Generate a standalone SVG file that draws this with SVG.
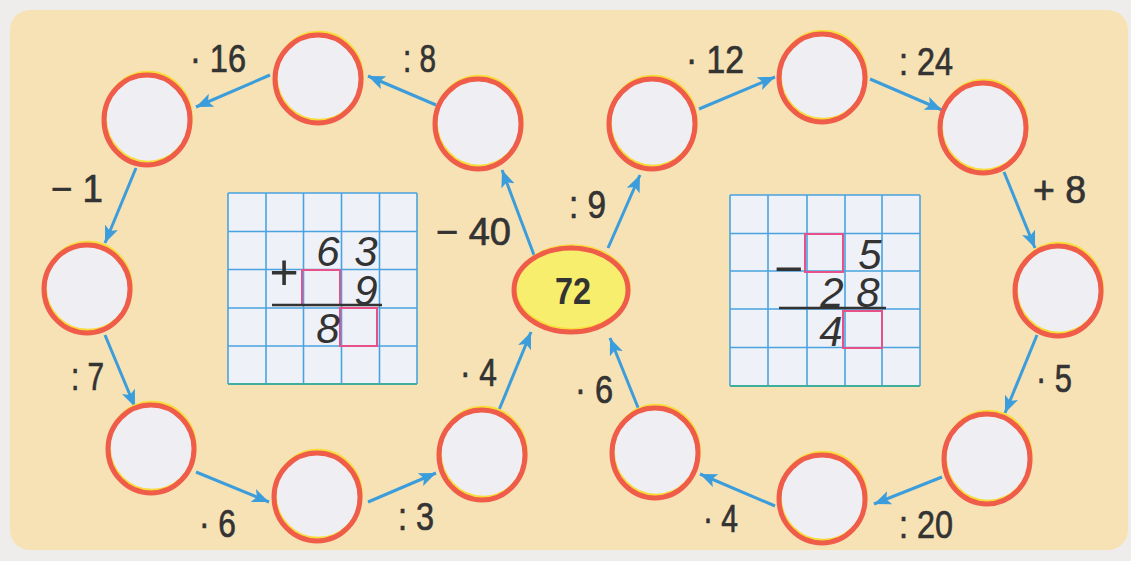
<svg xmlns="http://www.w3.org/2000/svg" width="1131" height="561" viewBox="0 0 1131 561">
<defs>
<style>
.f{fill:#eeeef3}
.y{fill:none;stroke:#f7dc3a;stroke-width:3.5}
.r{fill:none;stroke:#ef5c4a;stroke-width:5}
.cn{stroke:#3b9ddb;stroke-width:3;fill:none;marker-end:url(#ah)}
.lb{font-family:"Liberation Sans",Arial,sans-serif;font-size:38px;fill:#333;stroke:#333;stroke-width:0.7}
.gl{stroke:#4aa3e0;stroke-width:1.6;fill:none}
.pk{fill:none;stroke:#e8508a;stroke-width:2}
.dg{font-family:"Liberation Sans",Arial,sans-serif;font-style:italic;font-size:42px;fill:#333;text-anchor:middle}
.op{font-family:"Liberation Sans",Arial,sans-serif;font-size:50px;fill:#333;text-anchor:middle}
</style>
<marker id="ah" markerUnits="userSpaceOnUse" markerWidth="18" markerHeight="14" refX="17" refY="7" orient="auto">
<path d="M0,0 L17,7 L0,14 L4,7 z" fill="#3b9ddb"/>
</marker>
</defs>
<rect x="0" y="0" width="1131" height="561" fill="#efedeb"/>
<rect x="10" y="10" width="1118" height="540" rx="20" fill="#f7e2b5"/>

<g id="grid-left">
<rect x="228" y="193" width="189" height="191" fill="#eef1f7"/>
<path class="gl" d="M228,193V384M266,193V384M303.5,193V384M341.5,193V384M379.5,193V384M417,193V384M228,193H417M228,231.5H417M228,269.5H417M228,308H417M228,346H417"/>
<path d="M228,384H417" stroke="#3fae9f" stroke-width="1.8"/>
<rect class="pk" x="302" y="270" width="38" height="35"/>
<rect class="pk" x="340" y="308" width="37" height="38"/>
<text class="op" x="284" y="289">+</text>
<text class="dg"><tspan x="328" y="266">6</tspan><tspan x="366" y="266">3</tspan><tspan x="366" y="305">9</tspan><tspan x="328" y="343">8</tspan></text>
<path d="M272,305H382" stroke="#333" stroke-width="2.5"/>
</g>

<g id="grid-right">
<rect x="730" y="195" width="190" height="191" fill="#eef1f7"/>
<path class="gl" d="M730,195V386M768,195V386M807,195V386M845,195V386M882,195V386M920,195V386M730,195H920M730,233.5H920M730,271H920M730,309H920M730,347.5H920"/>
<path d="M730,386H920" stroke="#3fae9f" stroke-width="1.8"/>
<rect class="pk" x="805" y="234" width="38" height="38"/>
<rect class="pk" x="843" y="311" width="39" height="37"/>
<text class="op" x="788.5" y="285.5">−</text>
<text class="dg"><tspan x="870" y="269">5</tspan><tspan x="832" y="307">2</tspan><tspan x="868" y="307">8</tspan><tspan x="831" y="346">4</tspan></text>
<path d="M779,308H886" stroke="#333" stroke-width="2.5"/>
</g>

<g id="connectors">
<path class="cn" d="M534,255L502,170"/>
<path class="cn" d="M436,105L368,76"/>
<path class="cn" d="M270,75L196,107"/>
<path class="cn" d="M136,168L105,243"/>
<path class="cn" d="M105,335L135,407"/>
<path class="cn" d="M196,472L269,502"/>
<path class="cn" d="M368,502L436,473"/>
<path class="cn" d="M499,410L531,332"/>
<path class="cn" d="M608,248L640,175"/>
<path class="cn" d="M699,109L775,77"/>
<path class="cn" d="M870,79L942,110"/>
<path class="cn" d="M1004,172L1035,248"/>
<path class="cn" d="M1037,335L1005,413"/>
<path class="cn" d="M942,477L874,504"/>
<path class="cn" d="M775,506L700,474"/>
<path class="cn" d="M639,410L610,338"/>
</g>

<g id="labels">
<text class="lb" x="190" y="72" textLength="56" lengthAdjust="spacingAndGlyphs">· 16</text>
<text class="lb" x="403" y="72" textLength="33" lengthAdjust="spacingAndGlyphs">: 8</text>
<text class="lb" x="51" y="202" textLength="52" lengthAdjust="spacingAndGlyphs">− 1</text>
<text class="lb" x="436" y="245" textLength="75" lengthAdjust="spacingAndGlyphs">− 40</text>
<text class="lb" x="71" y="390" textLength="33" lengthAdjust="spacingAndGlyphs">: 7</text>
<text class="lb" x="199" y="537" textLength="37" lengthAdjust="spacingAndGlyphs">· 6</text>
<text class="lb" x="398" y="530" textLength="36" lengthAdjust="spacingAndGlyphs">: 3</text>
<text class="lb" x="460" y="386" textLength="37" lengthAdjust="spacingAndGlyphs">· 4</text>
<text class="lb" x="569" y="218" textLength="37" lengthAdjust="spacingAndGlyphs">: 9</text>
<text class="lb" x="686" y="73" textLength="58" lengthAdjust="spacingAndGlyphs">· 12</text>
<text class="lb" x="899" y="75" textLength="54" lengthAdjust="spacingAndGlyphs">: 24</text>
<text class="lb" x="1033" y="203" textLength="53" lengthAdjust="spacingAndGlyphs">+ 8</text>
<text class="lb" x="1036" y="392" textLength="36" lengthAdjust="spacingAndGlyphs">· 5</text>
<text class="lb" x="899" y="538" textLength="54" lengthAdjust="spacingAndGlyphs">: 20</text>
<text class="lb" x="703" y="532" textLength="35" lengthAdjust="spacingAndGlyphs">· 4</text>
<text class="lb" x="575" y="403" textLength="38" lengthAdjust="spacingAndGlyphs">· 6</text>
</g>

<g id="n72">
<ellipse cx="571" cy="290" rx="57" ry="42" fill="#f6ee6c"/>
<ellipse cx="572" cy="288" rx="57" ry="42" class="y"/>
<ellipse cx="571" cy="290" rx="57" ry="42" class="r"/>
<text x="573" y="304" font-family="Liberation Sans,Arial,sans-serif" font-weight="bold" font-size="37" fill="#333" text-anchor="middle" textLength="36" lengthAdjust="spacingAndGlyphs">72</text>
</g>

<g id="c1" transform="translate(147,120)"><ellipse class="f" rx="43" ry="45"/><ellipse class="y" cx="1" cy="-2.5" rx="43" ry="45"/><ellipse class="r" rx="43" ry="45"/></g>
<g id="c2" transform="translate(318,79)"><ellipse class="f" rx="43" ry="44"/><ellipse class="y" cx="1" cy="-2.5" rx="43" ry="44"/><ellipse class="r" rx="43" ry="44"/></g>
<g id="c3" transform="translate(478,124)"><ellipse class="f" rx="43" ry="45"/><ellipse class="y" cx="1" cy="-2.5" rx="43" ry="45"/><ellipse class="r" rx="43" ry="45"/></g>
<g id="c4" transform="translate(87,289)"><ellipse class="f" rx="43" ry="44"/><ellipse class="y" cx="1" cy="-2.5" rx="43" ry="44"/><ellipse class="r" rx="43" ry="44"/></g>
<g id="c5" transform="translate(151,449)"><ellipse class="f" rx="43" ry="44"/><ellipse class="y" cx="1" cy="-2.5" rx="43" ry="44"/><ellipse class="r" rx="43" ry="44"/></g>
<g id="c6" transform="translate(317,497)"><ellipse class="f" rx="43" ry="44"/><ellipse class="y" cx="1" cy="-2.5" rx="43" ry="44"/><ellipse class="r" rx="43" ry="44"/></g>
<g id="c7" transform="translate(482,455)"><ellipse class="f" rx="43" ry="45"/><ellipse class="y" cx="1" cy="-2.5" rx="43" ry="45"/><ellipse class="r" rx="43" ry="45"/></g>
<g id="r1" transform="translate(652,124)"><ellipse class="f" rx="43" ry="45"/><ellipse class="y" cx="1" cy="-2.5" rx="43" ry="45"/><ellipse class="r" rx="43" ry="45"/></g>
<g id="r2" transform="translate(822,78)"><ellipse class="f" rx="43" ry="44"/><ellipse class="y" cx="1" cy="-2.5" rx="43" ry="44"/><ellipse class="r" rx="43" ry="44"/></g>
<g id="r3" transform="translate(983,128)"><ellipse class="f" rx="43" ry="45"/><ellipse class="y" cx="1" cy="-2.5" rx="43" ry="45"/><ellipse class="r" rx="43" ry="45"/></g>
<g id="r4" transform="translate(1058,291)"><ellipse class="f" rx="43" ry="45"/><ellipse class="y" cx="1" cy="-2.5" rx="43" ry="45"/><ellipse class="r" rx="43" ry="45"/></g>
<g id="r5" transform="translate(987,459)"><ellipse class="f" rx="43" ry="45"/><ellipse class="y" cx="1" cy="-2.5" rx="43" ry="45"/><ellipse class="r" rx="43" ry="45"/></g>
<g id="r6" transform="translate(822,499)"><ellipse class="f" rx="43" ry="44"/><ellipse class="y" cx="1" cy="-2.5" rx="43" ry="44"/><ellipse class="r" rx="43" ry="44"/></g>
<g id="r7" transform="translate(655,453)"><ellipse class="f" rx="43" ry="45"/><ellipse class="y" cx="1" cy="-2.5" rx="43" ry="45"/><ellipse class="r" rx="43" ry="45"/></g>
</svg>
